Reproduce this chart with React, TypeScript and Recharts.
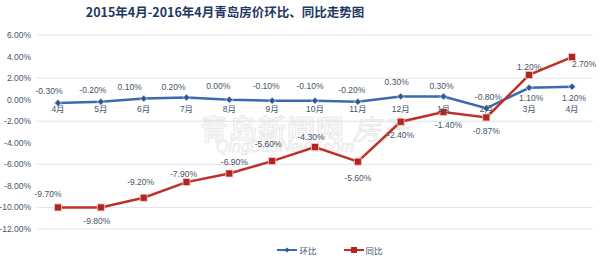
import { LineChart, Line, XAxis, YAxis, CartesianGrid, Legend, LabelList } from "recharts";

const months = ["4月", "5月", "6月", "7月", "8月", "9月", "10月", "11月", "12月", "1月", "2月", "3月", "4月"];

// 环比 (month on month) as plotted
const huanbi = [-0.3, -0.2, 0.1, 0.2, 0.0, -0.1, -0.1, -0.2, 0.3, 0.3, -0.8, 1.1, 1.2];
// 同比 (year on year) as plotted
const tongbi = [-10.0, -10.0, -9.1, -7.65, -6.85, -5.7, -4.4, -5.75, -2.05, -1.15, -1.65, 2.3, 3.95];

// data labels as printed in the chart
const huanbiLabels = ["-0.30%", "-0.20%", "0.10%", "0.20%", "0.00%", "-0.10%", "-0.10%", "-0.20%", "0.30%", "0.30%", "-0.80%", "1.10%", "1.20%"];
const tongbiLabels = ["-9.70%", "-9.80%", "-9.20%", "-7.90%", "-6.90%", "-5.60%", "-4.30%", "-5.60%", "-2.40%", "-1.40%", "-0.87%", "1.20%", "2.70%"];

const yTicks = [-12, -10, -8, -6, -4, -2, 0, 2, 4, 6];

// label placement (dx, dy) relative to each point
const huanbiLabelOffsets = [[-9, -12], [-8, -12], [-14, -12], [-13, -11], [-11, -14], [-6, -15], [-5, -15], [-6, -12], [-4, -14], [-2, -10], [2, -11], [2, 10], [2, 11]];
const tongbiLabelOffsets = [[-10, -13], [-4, 14], [-3, -16], [-3, -8], [5, -11], [-4, -17], [-4, -10], [0, 16], [0, 13], [5, 13], [0, 14], [0, -8], [12, 7]];

const data = months.map((m, i) => ({
  month: m,
  hb: huanbi[i],
  tb: tongbi[i],
  zero: 0,
}));

const BLUE = "#3A6AB0";
const RED = "#C0302A";
const TEXT = "#44546A";
const FONT = "'Liberation Sans', 'Noto Sans CJK SC', sans-serif";

const Diamond = (props: any) => {
  const { cx, cy } = props;
  if (cx == null || cy == null) return null;
  return <polygon points={`${cx},${cy - 3.5} ${cx + 3.5},${cy} ${cx},${cy + 3.5} ${cx - 3.5},${cy}`} fill="#2F5597" stroke="#dbe4f3" strokeWidth={0.8} />;
};

const Square = (props: any) => {
  const { cx, cy } = props;
  if (cx == null || cy == null) return null;
  return <rect x={cx - 3.5} y={cy - 3.5} width={7} height={7} fill="#B3231F" stroke="#f0c8c6" strokeWidth={0.8} />;
};

const makeLabel = (texts: string[], offsets: number[][]) => (props: any) => {
  const { x, y, index } = props;
  const [dx, dy] = offsets[index];
  return (
    <text x={x + dx} y={y + dy} textAnchor="middle" dominantBaseline="central" fontSize={8.5} fill={TEXT} fontFamily={FONT}>
      {texts[index]}
    </text>
  );
};

const monthLabel = (props: any) => {
  const { x, y, index } = props;
  return (
    <text x={x} y={y + 9} textAnchor="middle" dominantBaseline="central" fontSize={8.5} fill={TEXT} fontFamily={FONT}>
      {months[index]}
    </text>
  );
};

const LegendContent = () => (
  <div style={{ display: "flex", justifyContent: "center", alignItems: "center", marginLeft: 60, fontSize: 8.5, color: TEXT, fontFamily: FONT }}>
    <svg width={20} height={8} style={{ marginRight: 2 }}>
      <line x1={0} y1={4} x2={20} y2={4} stroke={BLUE} strokeWidth={2} />
      <polygon points="10,1.5 12.5,4 10,6.5 7.5,4" fill="#2F5597" />
    </svg>
    <span style={{ marginRight: 27 }}>环比</span>
    <svg width={20} height={8} style={{ marginRight: 2 }}>
      <line x1={0} y1={4} x2={20} y2={4} stroke={RED} strokeWidth={2} />
      <rect x={7} y={1} width={6} height={6} fill="#B3231F" />
    </svg>
    <span>同比</span>
  </div>
);

export default function App() {
  return (
    <div style={{ position: "absolute", left: 0, top: 0, width: 600, height: 273, background: "#fff", overflow: "hidden" }}>
      <div style={{ position: "absolute", left: 0, width: 450, top: 2, textAlign: "center", fontFamily: "'Noto Sans CJK SC', sans-serif", fontWeight: 700, fontSize: 12.5, color: "#1F3864" }}>
        2015年4月-2016年4月青岛房价环比、同比走势图
      </div>
      <div style={{ position: "absolute", left: 200, top: 108, fontFamily: "'Noto Sans CJK SC', sans-serif", fontSize: 28, fontWeight: 700, color: "#f7f7f7", WebkitTextStroke: "0.6px #e4e4e4", letterSpacing: 1 }}>
        青岛新闻网 <span style={{ fontStyle: "italic", fontWeight: 400 }}>房产</span>
      </div>
      <div style={{ position: "absolute", left: 216, top: 138, fontFamily: "'Liberation Sans', sans-serif", fontSize: 16, fontStyle: "italic", color: "#f7f7f7", WebkitTextStroke: "0.5px #e4e4e4" }}>
        QingDaoNews.com
      </div>
      <div style={{ position: "absolute", left: 0, top: 0 }}>
        <LineChart width={600} height={273} data={data} margin={{ top: 35, right: 7, bottom: 44, left: 0 }}>
          <CartesianGrid vertical={false} stroke="#dde3ee" />
          <XAxis dataKey="month" hide padding={{ left: 21, right: 21 }} />
          <YAxis
            domain={[-12, 6]}
            ticks={yTicks}
            width={37}
            axisLine={false}
            tickLine={false}
            tickSize={4}
            tickMargin={2}
            tick={{ fontSize: 8.5, fill: TEXT, fontFamily: FONT }}
            tickFormatter={(v: number) => `${v.toFixed(2)}%`}
          />
          <Legend layout="horizontal" verticalAlign="middle" wrapperStyle={{ top: 244, left: 0, width: 600 }} content={<LegendContent />} />
          <Line dataKey="zero" stroke="none" dot={false} activeDot={false} legendType="none" isAnimationActive={false}>
            <LabelList dataKey="zero" content={monthLabel} />
          </Line>
          <Line dataKey="hb" name="环比" stroke={BLUE} strokeWidth={2.5} dot={<Diamond />} activeDot={false} isAnimationActive={false}>
            <LabelList dataKey="hb" content={makeLabel(huanbiLabels, huanbiLabelOffsets)} />
          </Line>
          <Line dataKey="tb" name="同比" stroke={RED} strokeWidth={2.5} dot={<Square />} activeDot={false} isAnimationActive={false}>
            <LabelList dataKey="tb" content={makeLabel(tongbiLabels, tongbiLabelOffsets)} />
          </Line>
        </LineChart>
      </div>
    </div>
  );
}
